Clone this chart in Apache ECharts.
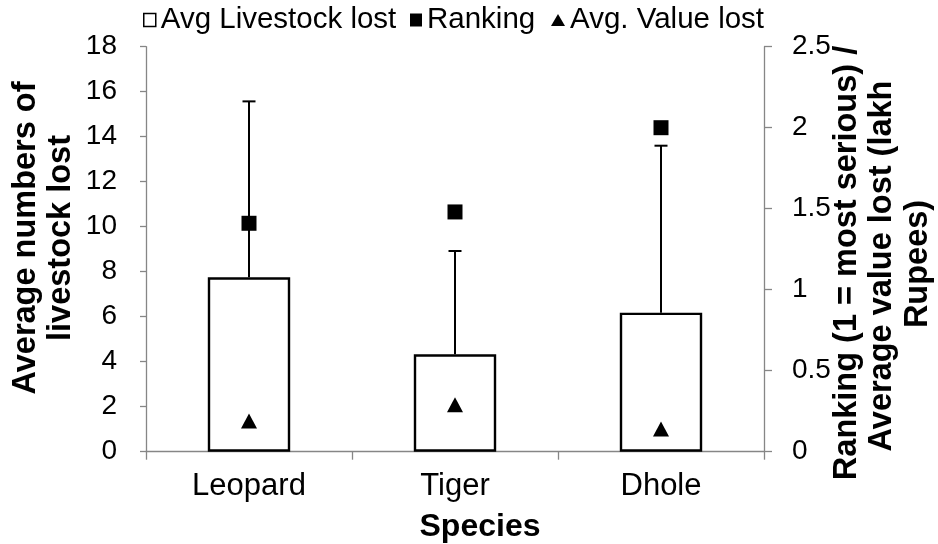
<!DOCTYPE html>
<html>
<head>
<meta charset="utf-8">
<script src="https://cdn.jsdelivr.net/npm/echarts@6/dist/echarts.min.js"></script>
<style>html,body{margin:0;padding:0;background:#fff;}#c{width:938px;height:544px;}</style>
</head>
<body>
<div id="c"></div>
<script>
// ---- data ----
const categories = ['Leopard', 'Tiger', 'Dhole'];
const avgLivestockLost = [7.75, 4.33, 6.18];
const errorUpper = [15.57, 8.92, 13.6];
const ranking = [1.41, 1.48, 2.0];
const avgValueLost = [0.19, 0.29, 0.14];
const leftTicks = { min: 0, max: 18, interval: 2 };
const rightTicks = { min: 0, max: 2.5, interval: 0.5 };

const FONT = 'Liberation Sans, Arial, sans-serif';
const axisGray = '#868686';

const chart = echarts.init(document.getElementById('c'), null, { renderer: 'canvas' });

const errData = categories.map((c, i) => [i, avgLivestockLost[i], errorUpper[i]]);

const legendText = { fontFamily: FONT, fontSize: 29.5, color: '#000' };

const option = {
  animation: false,
  backgroundColor: '#fff',
  grid: { left: 146, right: 174, top: 46.7, bottom: 92.3, containLabel: false },
  legend: [
    { left: 143, top: 5, padding: 0, itemWidth: 12, itemHeight: 13, itemGap: 0, textStyle: legendText,
      data: [{ name: 'Avg Livestock lost', icon: 'rect', itemStyle: { color: '#fff', borderColor: '#000', borderWidth: 1.5, opacity: 1 } }] },
    { left: 410, top: 5, padding: 0, itemWidth: 12, itemHeight: 13, itemGap: 0, textStyle: legendText,
      data: [{ name: 'Ranking', icon: 'rect', itemStyle: { color: '#000', opacity: 1 } }] },
    { left: 551, top: 5, padding: 0, itemWidth: 14, itemHeight: 12, itemGap: 0, textStyle: legendText,
      data: [{ name: 'Avg. Value lost', icon: 'triangle', itemStyle: { color: '#000', opacity: 1 } }] }
  ],
  xAxis: {
    type: 'category',
    data: categories,
    axisLine: { lineStyle: { color: axisGray, width: 1.3 } },
    axisTick: { show: true, length: 8, lineStyle: { color: axisGray, width: 1.3 } },
    axisLabel: { fontFamily: FONT, fontSize: 31, color: '#000', margin: 19 },
    splitLine: { show: false }
  },
  yAxis: [
    {
      type: 'value', min: leftTicks.min, max: leftTicks.max, interval: leftTicks.interval,
      axisLine: { show: true, lineStyle: { color: axisGray, width: 1.3 } },
      axisTick: { show: true, length: 6, lineStyle: { color: axisGray, width: 1.3 } },
      axisLabel: { fontFamily: FONT, fontSize: 28, color: '#000', margin: 29 },
      splitLine: { show: false }
    },
    {
      type: 'value', position: 'right', min: rightTicks.min, max: rightTicks.max, interval: rightTicks.interval,
      axisLine: { show: true, lineStyle: { color: axisGray, width: 1.3 } },
      axisTick: { show: true, length: 8, lineStyle: { color: axisGray, width: 1.3 } },
      axisLabel: { fontFamily: FONT, fontSize: 28, color: '#000', margin: 28 },
      splitLine: { show: false }
    }
  ],
  series: [
    {
      name: 'Avg Livestock lost', type: 'bar', data: avgLivestockLost, barWidth: '40%',
      itemStyle: { color: '#fff', borderColor: '#000', borderWidth: 2.4, opacity: 1 }, z: 2
    },
    {
      name: 'err', type: 'custom', data: errData, z: 3,
      renderItem: function (params, api) {
        const base = api.coord([api.value(0), api.value(1)]);
        const top = api.coord([api.value(0), api.value(2)]);
        return {
          type: 'group',
          children: [
            { type: 'line', shape: { x1: base[0], y1: base[1], x2: top[0], y2: top[1] }, style: { stroke: '#000', lineWidth: 2 } },
            { type: 'line', shape: { x1: top[0] - 6.5, y1: top[1], x2: top[0] + 6.5, y2: top[1] }, style: { stroke: '#000', lineWidth: 2 } }
          ]
        };
      }
    },
    {
      name: 'Ranking', type: 'scatter', yAxisIndex: 1, data: ranking, symbol: 'rect', symbolSize: 15,
      itemStyle: { color: '#000', opacity: 1 }, z: 4
    },
    {
      name: 'Avg. Value lost', type: 'scatter', yAxisIndex: 1, data: avgValueLost, symbol: 'triangle', symbolSize: [16, 15],
      itemStyle: { color: '#000', opacity: 1 }, z: 4
    }
  ],
  graphic: [
    { type: 'text', x: 26, y: 238, rotation: Math.PI / 2,
      style: { text: 'Average numbers of', font: 'bold 32.5px ' + FONT, fill: '#000', textAlign: 'center', textVerticalAlign: 'middle', align: 'center', verticalAlign: 'middle' } },
    { type: 'text', x: 61, y: 238, rotation: Math.PI / 2,
      style: { text: 'livestock lost', font: 'bold 32.5px ' + FONT, fill: '#000', textAlign: 'center', textVerticalAlign: 'middle', align: 'center', verticalAlign: 'middle' } },
    { type: 'text', x: 847, y: 263, rotation: Math.PI / 2,
      style: { text: 'Ranking (1 = most serious) /', font: 'bold 32.5px ' + FONT, fill: '#000', textAlign: 'center', textVerticalAlign: 'middle', align: 'center', verticalAlign: 'middle' } },
    { type: 'text', x: 882, y: 266, rotation: Math.PI / 2,
      style: { text: 'Average value lost (lakh', font: 'bold 32.5px ' + FONT, fill: '#000', textAlign: 'center', textVerticalAlign: 'middle', align: 'center', verticalAlign: 'middle' } },
    { type: 'text', x: 918, y: 264, rotation: Math.PI / 2,
      style: { text: 'Rupees)', font: 'bold 32.5px ' + FONT, fill: '#000', textAlign: 'center', textVerticalAlign: 'middle', align: 'center', verticalAlign: 'middle' } },
    { type: 'text', x: 480, y: 527,
      style: { text: 'Species', font: 'bold 32px ' + FONT, fill: '#000', textAlign: 'center', textVerticalAlign: 'middle', align: 'center', verticalAlign: 'middle' } }
  ]
};
chart.setOption(option);
</script>
</body>
</html>
